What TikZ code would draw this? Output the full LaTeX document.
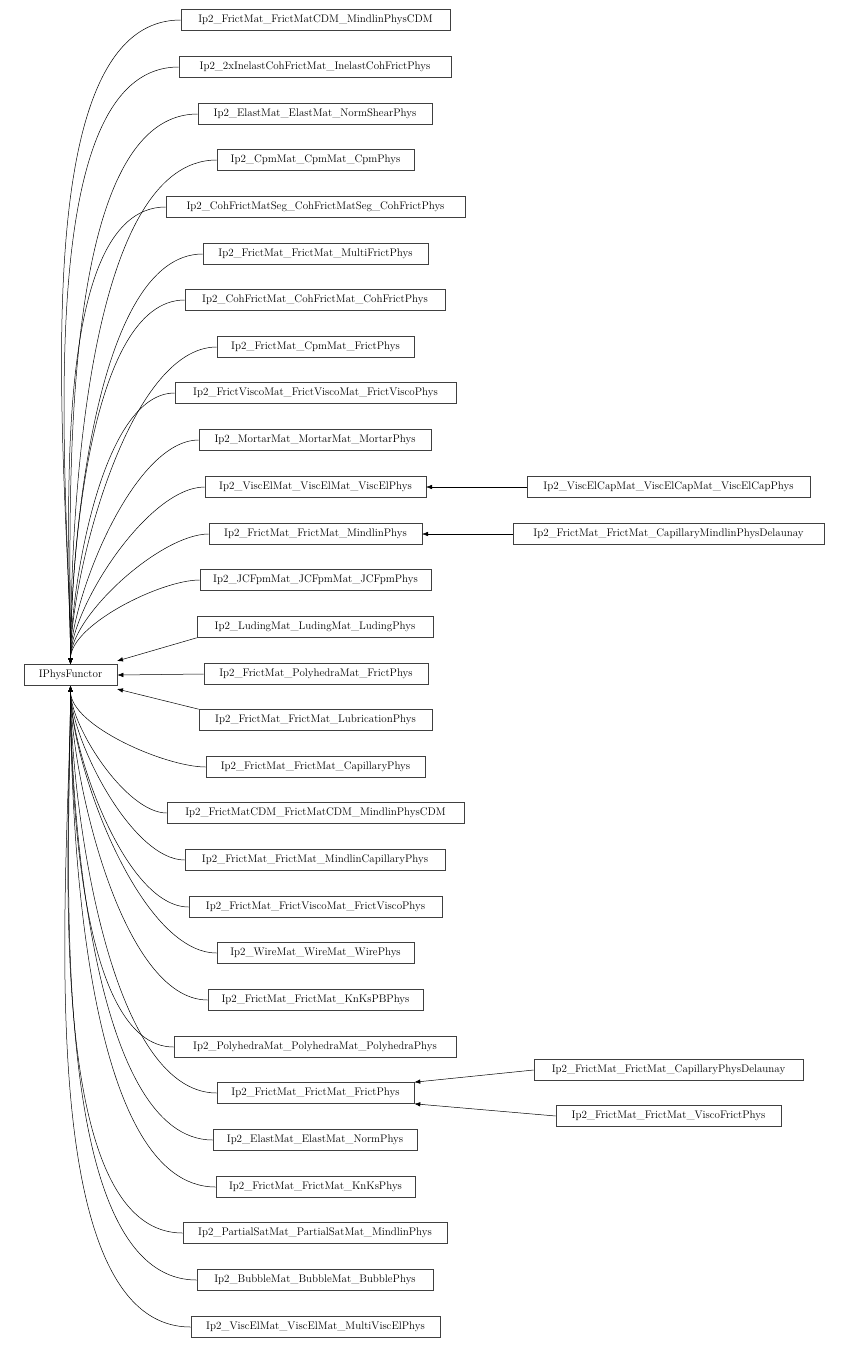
\documentclass[tikz,border=0pt]{standalone}
\usetikzlibrary{arrows.meta}
\begin{document}
\begin{tikzpicture}[x=1pt,y=-1pt,
  box/.style={draw=black!75,line width=0.6pt,minimum height=21pt,inner sep=0pt,font=\fontsize{11}{13}\selectfont},
  arr/.style={line width=0.5pt,-{Latex[length=6pt,width=4.5pt]}}]
\useasboundingbox (0,0) rectangle (849,1350);
\node[box,minimum width=93pt] (IP) at (70.5,675) {IPhysFunctor};
\foreach \nm/\l/\r/\yy in {
Ip2\_FrictMat\_FrictMatCDM\_MindlinPhysCDM/181/450/20,
Ip2\_2xInelastCohFrictMat\_InelastCohFrictPhys/179/451/67,
Ip2\_ElastMat\_ElastMat\_NormShearPhys/198/432/114,
Ip2\_CpmMat\_CpmMat\_CpmPhys/217/414/160,
Ip2\_CohFrictMatSeg\_CohFrictMatSeg\_CohFrictPhys/166/465/207,
Ip2\_FrictMat\_FrictMat\_MultiFrictPhys/203/428/254,
Ip2\_CohFrictMat\_CohFrictMat\_CohFrictPhys/185/445/300,
Ip2\_FrictMat\_CpmMat\_FrictPhys/217/414/347,
Ip2\_FrictViscoMat\_FrictViscoMat\_FrictViscoPhys/175/456/393,
Ip2\_MortarMat\_MortarMat\_MortarPhys/199/431/440,
Ip2\_ViscElMat\_ViscElMat\_ViscElPhys/205/426/487,
Ip2\_FrictMat\_FrictMat\_MindlinPhys/209/422/534,
Ip2\_JCFpmMat\_JCFpmMat\_JCFpmPhys/200/431/580}
{\node[box,minimum width={(\r-\l)*1pt}] at ({(\l+\r)/2},\yy) (t) {\nm};
 \draw[arr] (t.west) to[out=180,in=90,looseness=0.65] (IP.north);}
\foreach \nm/\l/\r/\yy in {
Ip2\_FrictMat\_FrictMat\_CapillaryPhys/206/425/767,
Ip2\_FrictMatCDM\_FrictMatCDM\_MindlinPhysCDM/167/464/813,
Ip2\_FrictMat\_FrictMat\_MindlinCapillaryPhys/185/445/860,
Ip2\_FrictMat\_FrictViscoMat\_FrictViscoPhys/189/442/907,
Ip2\_WireMat\_WireMat\_WirePhys/217/414/953,
Ip2\_FrictMat\_FrictMat\_KnKsPBPhys/208/423/1000,
Ip2\_PolyhedraMat\_PolyhedraMat\_PolyhedraPhys/174/456/1047,
Ip2\_ElastMat\_ElastMat\_NormPhys/213/417/1140,
Ip2\_FrictMat\_FrictMat\_KnKsPhys/216/415/1187,
Ip2\_PartialSatMat\_PartialSatMat\_MindlinPhys/183/447/1233,
Ip2\_BubbleMat\_BubbleMat\_BubblePhys/197/433/1280,
Ip2\_ViscElMat\_ViscElMat\_MultiViscElPhys/191/440/1327}
{\node[box,minimum width={(\r-\l)*1pt}] at ({(\l+\r)/2},\yy) (b) {\nm};
 \draw[arr] (b.west) to[out=180,in=-90,looseness=0.65] (IP.south);}
\node[box,minimum width=197pt] (FF) at (315.5,1093) {Ip2\_FrictMat\_FrictMat\_FrictPhys};
\draw[arr] (FF.west) to[out=180,in=-90,looseness=0.65] (IP.south);
\node[box,minimum width=236pt] (LU) at (315,627) {Ip2\_LudingMat\_LudingMat\_LudingPhys};
\node[box,minimum width=224pt] (PF) at (316,674) {Ip2\_FrictMat\_PolyhedraMat\_FrictPhys};
\node[box,minimum width=233pt] (LB) at (315.5,720) {Ip2\_FrictMat\_FrictMat\_LubricationPhys};
\coordinate (IPa) at (117,661);
\coordinate (IPc) at (117,689);
\draw[arr] (LU.south west) -- (IPa);
\draw[arr] (PF.west) -- (IP.east);
\draw[arr] (LB.north west) -- (IPc);
\node[box,minimum width=283pt] (VC) at (668.5,487) {Ip2\_ViscElCapMat\_ViscElCapMat\_ViscElCapPhys};
\node[box,minimum width=311pt] (CM) at (668.5,534) {Ip2\_FrictMat\_FrictMat\_CapillaryMindlinPhysDelaunay};
\node[box,minimum width=269pt] (CD) at (668.5,1070) {Ip2\_FrictMat\_FrictMat\_CapillaryPhysDelaunay};
\node[box,minimum width=225pt] (VF) at (668.5,1116) {Ip2\_FrictMat\_FrictMat\_ViscoFrictPhys};
\coordinate (VEe) at (426,487);
\coordinate (MPe) at (422,534);
\draw[arr] (VC.west) -- (VEe);
\draw[arr] (CM.west) -- (MPe);
\draw[arr] (CD.west) -- (FF.north east);
\draw[arr] (VF.west) -- (FF.south east);
\end{tikzpicture}
\end{document}
